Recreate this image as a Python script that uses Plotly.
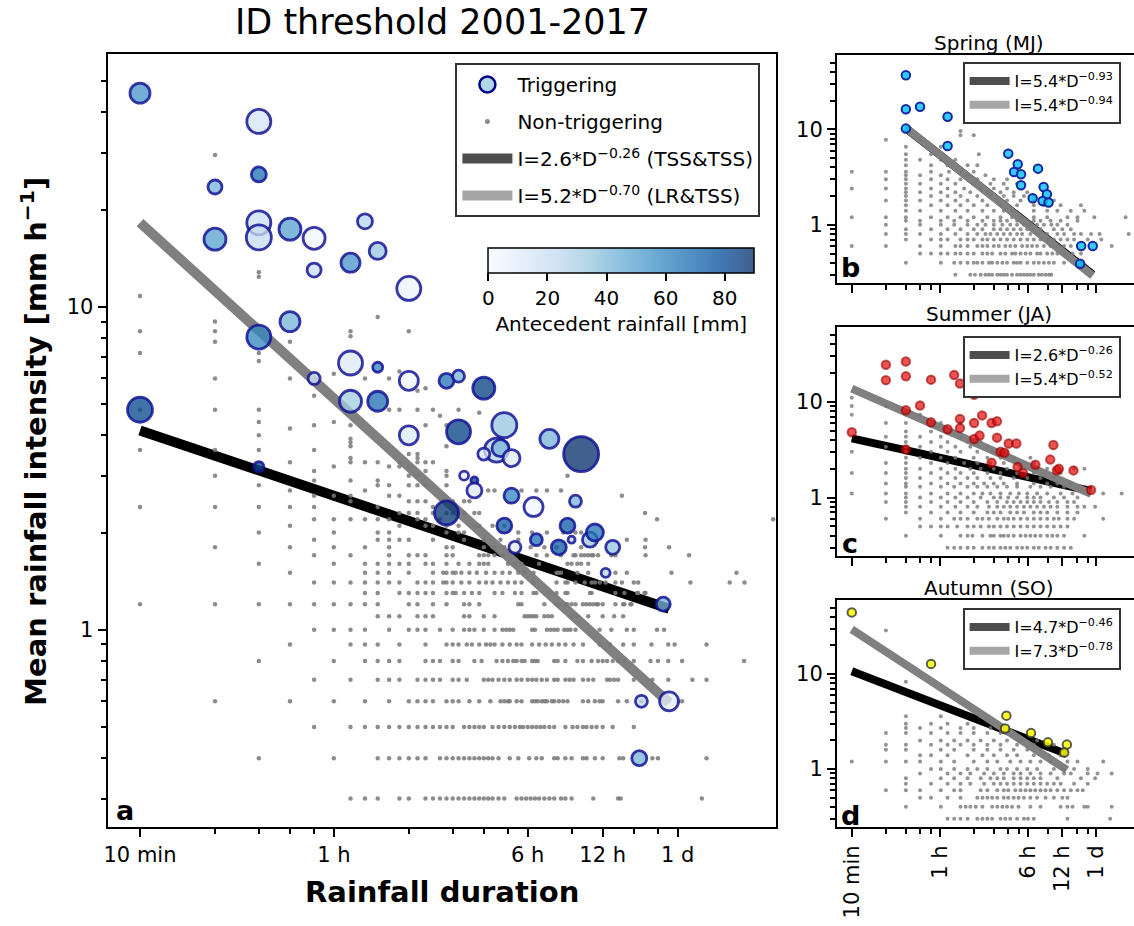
import plotly.graph_objects as go

# ---------------- DATA ----------------
# Main panel: non-triggering events, grouped by intensity row (mm/h) -> durations (min)
main_nt_I = [0.3, 0.4, 0.5, 0.6, 0.7, 0.8, 0.9, 1.0, 1.1, 1.2, 1.3, 1.4, 1.5, 1.6, 1.7, 1.8, 1.9, 2.0,
             2.1, 2.2, 2.3, 2.4, 2.5, 2.6, 2.7, 2.8, 2.9, 3.0, 3.1, 3.2, 3.3, 3.4, 3.5, 3.6, 3.7, 3.8,
             3.9, 4.0, 4.2, 4.3, 4.4, 4.6, 4.7, 4.8, 5.3, 5.5, 5.6, 6.0, 6.2, 6.3, 6.8, 7.2, 7.8, 8.1,
             8.4, 9.0, 9.3, 10.8, 12.4, 12.8, 29.5]
main_nt_D = [
    [70, 80, 90, 110, 120, 140, 150, 160, 170, 180, 190, 200, 210, 220, 230, 240, 250, 260, 275, 290, 325, 340, 355, 370, 385, 400, 420, 440, 460, 490, 510, 540, 660, 830, 850, 1800],
    [30, 60, 90, 100, 110, 120, 130, 140, 160, 170, 180, 190, 200, 210, 220, 230, 240, 250, 260, 275, 305, 330, 365, 390, 410, 460, 475, 510, 540, 600, 620, 670, 720, 840, 870, 1140, 1200, 1880],
    [50, 70, 80, 90, 100, 110, 120, 130, 140, 150, 160, 170, 180, 200, 210, 220, 230, 240, 260, 275, 290, 305, 320, 335, 345, 360, 375, 390, 405, 420, 440, 460, 510, 545, 570, 600, 620, 650, 680, 720, 790, 960],
    [20, 40, 60, 80, 100, 120, 130, 140, 150, 170, 180, 190, 210, 230, 255, 280, 290, 300, 305, 325, 340, 375, 385, 395, 410, 420, 430, 450, 460, 480, 500, 520, 600, 630, 670, 700, 720, 830, 900, 1030, 1330, 1440, 1500],
    [50, 70, 90, 100, 110, 130, 140, 150, 160, 180, 190, 205, 240, 250, 260, 275, 290, 305, 325, 340, 360, 375, 390, 410, 430, 460, 475, 510, 530, 550, 600, 630, 660, 750, 770, 800, 830, 960, 1140, 1320, 1650, 1880],
    [30, 60, 80, 90, 100, 110, 140, 150, 160, 180, 190, 220, 235, 270, 285, 300, 315, 325, 340, 350, 375, 385, 395, 460, 475, 510, 570, 600, 650, 690, 720, 750, 790, 830, 880, 960, 1120, 1200, 1320, 1500, 2660],
    [40, 70, 80, 90, 110, 140, 170, 180, 190, 205, 215, 230, 245, 255, 265, 285, 305, 325, 340, 375, 400, 425, 450, 480, 510, 550, 600, 700, 770, 870, 960, 1130, 1320, 1400, 1880],
    [50, 60, 70, 80, 100, 120, 130, 140, 160, 180, 200, 210, 220, 240, 265, 285, 295, 305, 315, 375, 385, 430, 445, 460, 475, 505, 520, 535, 560, 700, 780, 900, 960, 1190, 1270],
    [90, 100, 110, 130, 140, 150, 200, 210, 240, 265, 350, 360, 370, 380, 390, 420, 435, 450, 540, 570, 630, 720, 800, 870],
    [10, 20, 30, 40, 50, 60, 70, 80, 90, 120, 130, 150, 170, 200, 210, 230, 330, 340, 420, 470, 480, 510, 520, 540, 560, 600, 620, 640, 660, 680, 690, 720, 810, 870, 880, 930, 940],
    [80, 90, 110, 120, 130, 140, 150, 170, 180, 185, 200, 215, 230, 265, 285, 320, 340, 380, 390, 440, 470, 510, 520, 640, 650, 810, 880, 990, 1000, 1060, 1070],
    [50, 60, 70, 80, 90, 100, 110, 130, 140, 150, 165, 170, 180, 195, 210, 230, 245, 260, 280, 300, 320, 340, 380, 470, 510, 520, 560, 610, 650, 670, 700, 740, 810, 860, 960, 1000, 1620, 2330, 2670],
    [40, 80, 90, 100, 120, 150, 165, 170, 180, 185, 195, 210, 225, 245, 265, 285, 305, 330, 350, 380, 470, 480, 490, 570, 630, 810, 900, 1360, 2480],
    [30, 60, 80, 90, 100, 110, 120, 140, 150, 170, 190, 210, 230, 240, 250, 300, 320, 340, 400, 520, 540, 570, 590, 630],
    [50, 70, 100, 120, 130, 140, 170, 180, 230, 240, 250, 265, 285, 390, 430, 490, 550, 560, 590, 610, 630, 650, 660, 690, 780, 810, 1070, 1600],
    [20, 40, 60, 80, 100, 170, 180, 240, 260, 265, 290, 370, 420, 470, 590, 1065, 1330],
    [50, 90, 100, 110, 120, 150, 200, 240, 280, 330, 900, 1070],
    [30, 60, 90, 100, 170, 190, 200, 330, 375, 430, 500, 560, 590],
    [40, 110, 140, 150, 170, 190, 220, 230, 260, 290],
    [50, 60, 70, 80, 90, 100, 130, 140, 160, 1190, 3480],
    [110, 120, 130, 150, 170, 180, 200, 220, 230, 1065],
    [10, 20, 30, 40, 50, 90, 150],
    [70, 120, 130, 140, 180, 200, 210],
    [50, 60, 70, 100, 110, 860],
    [40, 80, 250, 265, 340, 390, 430, 490],
    [30, 90, 100, 120, 130, 140, 170],
    [50, 70, 90],
    [20, 120, 130, 170, 520],
    [50, 140, 170],
    [60, 100, 110, 120],
    [40, 70, 80, 90, 110, 130, 140, 150],
    [70, 130],
    [120, 130],
    [10, 20, 30, 50],
    [70, 170],
    [70],
    [70],
    [30],
    [40],
    [50, 70, 140, 170],
    [30, 60],
    [160],
    [230],
    [10, 20, 30, 100, 110, 130, 150, 190],
    [50],
    [130],
    [140],
    [20, 40, 50, 80, 100],
    [60],
    [110],
    [30],
    [10, 30],
    [20, 40],
    [70],
    [10, 20, 70, 120],
    [20],
    [90],
    [10],
    [30],
    [30],
    [20],
]

# Main panel: triggering events
trig_D = [10, 30, 30, 20, 30, 30, 20, 40, 50, 80, 90, 70, 50, 120, 40, 30, 10, 30, 50, 70, 90, 70, 90, 120, 120,
          170, 190, 240, 190, 290, 440, 590, 270, 280, 240, 310, 200, 220, 220, 170, 310, 380, 560, 290, 390,
          320, 480, 520, 540, 640, 670, 790, 740, 1260, 1030, 1330, 1010]
trig_I = [45.9, 37.5, 25.7, 23.5, 18.2, 16.4, 16.2, 17.4, 16.3, 18.4, 14.9, 13.7, 13.0, 11.4, 9.0, 8.06, 4.8, 3.2,
          6.0, 6.7, 6.5, 5.1, 5.1, 5.9, 4.0,
          5.9, 6.1, 5.6, 4.1, 4.3, 3.9, 3.5, 3.6, 3.65, 3.5, 3.4, 3.0, 2.9, 2.7, 2.3, 2.6, 2.4, 2.5, 2.1, 1.9,
          1.8, 1.8, 2.1, 1.9, 1.9, 2.0, 1.8, 1.5, 1.2, 0.6, 0.6, 0.4]
trig_antecedent = [55, 15, 68, 42, 20, 22, 50, 50, 3, 26, 35, 55, 20, 5, 42, 60, 82, 82, 15, 12, 60, 32, 68, 3, 12,
                   66, 42, 84, 84, 35, 42, 90, 26, 42, 12, 10, 8, 82, 12, 88, 60, 3, 42, 75, 68,
                   8, 75, 75, 22, 32, 66, 35, 26, 42, 22, 8, 42]
trig_size = [23, 27, 18, 17, 27, 28, 25, 25, 25, 18, 20, 22, 17, 27, 23, 27, 28, 13, 15, 27, 13, 25, 23, 22, 22,
             18, 15, 25, 27, 28, 22, 38, 27, 20, 15, 20, 12, 10, 18, 27, 18, 22, 15, 18, 15,
             15, 18, 18, 10, 18, 20, 17, 12, 17, 15, 22, 18]

# Threshold coefficients  I = a * D^b  (D in hours)
main_thr_a = [2.6, 5.2]
main_thr_b = [-0.26, -0.70]
main_thr_labels = ["I=2.6*D<sup>\u22120.26</sup> (TSS&TSS)", "I=5.2*D<sup>\u22120.70</sup> (LR&TSS)"]

# Seasonal panels: non-triggering rows (intensity -> durations, min)
spring_nt_I = [0.3, 0.4, 0.5, 0.6, 0.7, 0.8, 0.9, 1.0, 1.1, 1.2, 1.4, 1.6, 1.8, 2.0, 2.2, 2.4, 2.7, 3.0, 3.3, 3.6,
               4.2, 4.8, 5.5, 6.6, 7.8, 8.7, 9.6]
spring_nt_D = [
    [82, 111, 122, 137, 151, 162, 173, 192, 205, 219, 234, 259, 287, 308, 330, 353, 376, 403, 446, 475, 512, 548, 575],
    [30, 61, 80, 91, 105, 119, 128, 142, 162, 173, 192, 213, 234, 268, 287, 308, 353, 403, 446, 495, 548, 606, 745],
    [40, 50, 61, 70, 82, 91, 105, 119, 142, 157, 173, 205, 226, 259, 277, 308, 341, 376, 431, 462, 529, 587, 650, 745, 884, 1050],
    [10, 20, 40, 61, 82, 91, 105, 128, 142, 157, 179, 198, 226, 250, 277, 318, 353, 389, 431, 495, 567, 650, 745, 855, 1960],
    [30, 50, 61, 70, 91, 105, 119, 142, 157, 179, 205, 234, 268, 308, 353, 403, 462, 529, 606, 695, 798, 913, 1205, 1586],
    [20, 30, 40, 61, 82, 105, 128, 151, 167, 192, 219, 250, 287, 318, 376, 431, 529, 650, 745, 913, 1050, 1290, 1533, 2770],
    [30, 50, 70, 91, 119, 142, 179, 205, 234, 268, 308, 353, 403, 462, 606, 719, 855],
    [20, 40, 61, 80, 105, 128, 151, 179, 213, 250, 287, 330, 376, 431, 495, 575, 650, 798],
    [30, 40, 61, 80, 105, 142, 179, 205, 234, 287, 353, 403, 462, 567, 695, 979],
    [10, 20, 30, 50, 70, 91, 119, 157, 205, 259, 308, 403, 529, 798, 979, 1380, 2600],
    [30, 40, 61, 82, 105, 142, 179, 219, 268, 403, 529, 650, 855, 1125],
    [30, 50, 70, 91, 119, 157, 205, 287, 403, 495, 695, 1050],
    [20, 30, 40, 61, 82, 105, 142, 192, 234, 308, 403, 606],
    [30, 50, 70, 91, 128, 167, 219, 268, 330, 403],
    [30, 40, 61, 82, 111, 157, 205, 268, 353],
    [10, 20, 30, 50, 70, 98, 137, 179, 234],
    [30, 40, 61, 82, 119, 167, 219, 287],
    [20, 30, 50, 70, 91, 128, 179, 234],
    [30, 40, 61, 105, 151],
    [10, 20, 30, 50, 72, 91, 119],
    [30, 50, 70, 105, 128],
    [30, 40, 61, 82],
    [30, 50, 132],
    [30, 61],
    [20, 40],
    [91, 119],
    [91],
]
summer_nt_I = [0.3, 0.4, 0.5, 0.6, 0.7, 0.8, 0.9, 1.0, 1.1, 1.3, 1.4, 1.6, 1.8, 2.0, 2.3, 2.6, 3.0, 3.4, 3.8, 4.3,
               4.9, 6.0, 7.3, 9.0, 11.0]
summer_nt_D = [
    [70, 80, 91, 105, 119, 142, 162, 179, 205, 226, 250, 287, 318, 353, 403, 446, 512, 567, 650, 745, 855],
    [30, 61, 91, 105, 116, 142, 167, 179, 205, 219, 240, 268, 308, 341, 376, 415, 462, 529, 587, 650, 745, 1125],
    [40, 50, 61, 70, 85, 105, 119, 137, 162, 179, 205, 234, 268, 308, 353, 403, 462, 529, 606, 695, 798],
    [20, 40, 61, 80, 91, 105, 128, 142, 162, 192, 219, 240, 268, 308, 353, 403, 462, 529, 606, 670, 798, 913, 1650],
    [30, 50, 70, 91, 119, 157, 179, 205, 250, 287, 330, 403, 462, 529, 650, 798, 979],
    [30, 40, 61, 82, 105, 128, 162, 192, 219, 250, 287, 330, 376, 431, 495, 567, 650, 798, 979, 1125, 1400],
    [20, 30, 50, 70, 91, 119, 157, 192, 234, 268, 308, 353, 403, 462, 548, 650, 798, 913],
    [30, 40, 61, 82, 105, 137, 179, 205, 240, 287, 353, 403, 462, 606, 745, 979],
    [10, 20, 30, 50, 70, 91, 119, 142, 167, 205, 250, 298, 353, 431, 529, 695, 884, 1205, 1650, 2400],
    [30, 40, 61, 80, 105, 128, 157, 192, 234, 287, 376, 462, 567, 745, 979],
    [20, 30, 50, 70, 91, 119, 147, 179, 219, 287, 403, 529, 650, 855],
    [30, 40, 61, 82, 105, 128, 167, 205, 268, 353, 462, 606],
    [10, 20, 30, 50, 70, 91, 119, 157, 205, 287, 403, 695],
    [30, 40, 61, 82, 111, 137, 179, 234, 308, 431, 529, 913, 1125],
    [20, 30, 50, 70, 98, 128, 167, 219, 287, 403],
    [30, 40, 61, 82, 119, 157, 205, 268, 376],
    [10, 30, 50, 70, 91, 128, 173, 234],
    [20, 30, 40, 61, 82, 111, 157],
    [30, 50, 70, 105, 137],
    [20, 30, 40, 61, 91],
    [30, 50, 70],
    [20, 30, 61, 91],
    [10, 30, 40],
    [10, 20],
    [10],
]
autumn_nt_I = [0.3, 0.4, 0.5, 0.6, 0.7, 0.8, 0.9, 1.0, 1.2, 1.4, 1.6, 1.8, 2.0, 2.4, 2.7, 3.0, 3.6, 8.3, 28.7]
autumn_nt_D = [
    [70, 80, 91, 105, 128, 142, 157, 173, 205, 226, 250, 287, 330, 359, 403, 798, 1900],
    [30, 61, 91, 101, 111, 124, 142, 173, 192, 213, 234, 259, 296, 376, 462, 695, 798, 884, 1125, 1205, 1960],
    [40, 50, 70, 91, 128, 142, 157, 173, 192, 219, 240, 268, 296, 330, 376, 431, 512, 606, 719, 798],
    [20, 30, 40, 61, 80, 91, 137, 157, 192, 219, 240, 277, 308, 341, 376, 415, 462, 512, 567, 650, 745, 855, 979, 1090],
    [30, 50, 70, 91, 111, 147, 179, 205, 234, 268, 308, 353, 403, 462, 529, 606, 695, 913, 1205],
    [30, 61, 80, 105, 137, 167, 192, 219, 268, 308, 353, 403, 462, 650, 1050, 1400],
    [40, 70, 91, 111, 147, 179, 219, 268, 308, 376, 462, 567, 745, 855, 1205, 1470, 1960],
    [50, 61, 80, 105, 128, 157, 205, 234, 287, 353, 431, 606, 745, 913, 1205],
    [10, 20, 30, 40, 61, 80, 119, 157, 192, 250, 308, 376, 462, 567, 798, 979, 1650],
    [40, 50, 70, 105, 142, 179, 234, 287, 403, 548, 695],
    [20, 30, 61, 80, 119, 157, 205, 268, 353, 462],
    [20, 30, 50, 70, 91, 119, 157, 205, 287, 403, 606],
    [40, 61, 80, 105, 137, 179, 234, 308, 431],
    [20, 30, 50, 70, 91, 119, 157, 205],
    [30, 40, 61, 91, 119, 167],
    [30, 50, 70, 105],
    [30, 61],
    [30],
    [20],
]

# Seasonal triggering events
spring_D = [30, 30, 40, 30, 70, 70, 240, 291, 270, 311, 311, 439, 492, 526, 394, 482, 544, 1055, 1334, 1033]
spring_I = [37, 16.3, 17.3, 10.2, 13.6, 6.7, 5.57, 4.31, 3.58, 3.39, 2.6, 3.88, 2.49, 2.09, 1.9, 1.78, 1.71, 0.6, 0.6, 0.39]
summer_D = [10, 20, 20, 30, 30, 30, 30, 40, 50, 50, 70, 80, 90, 90, 90, 120, 120, 120, 134, 141, 171, 191, 191,
            171, 205, 222, 242, 283, 290, 324, 416, 563, 600, 644, 670, 903, 1290]
summer_I = [4.81, 24.3, 16.8, 26.3, 18.4, 8.16, 3.18, 9.14, 17, 6.09, 5.17, 19, 15.5, 6.6, 5.3, 11.8, 6.0, 4.08,
            4.43, 7.2, 6.0, 6.24, 4.22, 2.31, 3.0, 2.93, 3.67, 3.67, 2.08, 1.8, 2.2, 2.49, 3.53, 1.92, 2.0, 1.92, 1.2]
autumn_D = [10, 50, 231, 225, 381, 537, 789, 748]
autumn_I = [44.6, 12.8, 3.65, 2.67, 2.39, 1.91, 1.81, 1.49]

season_names = ["Spring (MJ)", "Summer (JA)", "Autumn (SO)"]
season_thr_a = [[5.4, 5.4], [2.6, 5.4], [4.7, 7.3]]
season_thr_b = [[-0.93, -0.94], [-0.26, -0.52], [-0.46, -0.78]]

# Axis ticks
x_tick_vals_h = [1 / 6, 1, 6, 12, 24]
x_tick_text = ["10 min", "1 h", "6 h", "12 h", "1 d"]
x_minor_h = [20 / 60, 30 / 60, 40 / 60, 50 / 60, 2, 3, 4, 5, 9, 16, 20]
y_tick_vals = [1, 10]
y_tick_text = ["1", "10"]
y_minor = [0.3, 0.4, 0.5, 0.6, 0.7, 0.8, 0.9, 2, 3, 4, 5, 6, 7, 8, 9, 20, 30, 40, 50]
cbar_ticks = [0, 20, 40, 60, 80]

# ---------------- HELPERS ----------------
FONT = "DejaVu Sans"
W, H = 1134, 926


def flatten(rows_I, rows_D):
    xs, ys = [], []
    for inten, durs in zip(rows_I, rows_D):
        for d in durs:
            xs.append(d / 60.0)
            ys.append(inten)
    return xs, ys


def px_x(p):
    return p / W


def px_y(p):
    return 1 - p / H


blues = ['#f7fbff', '#deebf7', '#c6dbef', '#9ecae1', '#6baed6', '#4292c6', '#2171b5', '#08519c', '#08306b']


def rgba(hexc, a):
    h = hexc.lstrip('#')
    return 'rgba(%d,%d,%d,%.2f)' % (int(h[0:2], 16), int(h[2:4], 16), int(h[4:6], 16), a)


cscale = [[i / (len(blues) - 1), rgba(c, 0.77)] for i, c in enumerate(blues)]

fig = go.Figure()

# ---------------- MAIN PANEL ----------------
dmin_h = min(trig_D) / 60.0
dmax_h = max(trig_D) / 60.0
line_cols = ['black', '#808080']
for a, b, col in zip(main_thr_a, main_thr_b, line_cols):
    xs = [dmin_h, dmax_h]
    fig.add_trace(go.Scatter(x=xs, y=[a * x ** b for x in xs], mode='lines',
                             line=dict(color=col, width=10), showlegend=False,
                             xaxis='x', yaxis='y', hoverinfo='skip'))

nx, ny = flatten(main_nt_I, main_nt_D)
fig.add_trace(go.Scatter(x=nx, y=ny, mode='markers',
                         marker=dict(size=4.5, color='rgba(120,120,120,0.85)'),
                         showlegend=False, xaxis='x', yaxis='y'))

fig.add_trace(go.Scatter(
    x=[d / 60.0 for d in trig_D], y=trig_I, mode='markers', showlegend=False,
    xaxis='x', yaxis='y',
    marker=dict(size=[s - 3 for s in trig_size], color=trig_antecedent, colorscale=cscale,
                cmin=0, cmax=90, opacity=1, line=dict(color='rgba(20,20,150,0.85)', width=2.8),
                showscale=True,
                colorbar=dict(orientation='h', x=px_x((486 + 753) / 2), xanchor='center',
                              y=px_y(248), yanchor='top', len=(753 - 486) / W, lenmode='fraction',
                              thickness=25, thicknessmode='pixels', outlinewidth=1.5,
                              outlinecolor='black', ticks='outside', ticklen=8, tickwidth=2,
                              tickcolor='black', tickvals=cbar_ticks,
                              tickfont=dict(family=FONT, size=20, color='black'),
                              title=dict(text='Antecedent rainfall [mm]', side='bottom',
                                         font=dict(family=FONT, size=20, color='black')),
                              xpad=0, ypad=0))))

# legend entries for main panel
fig.add_trace(go.Scatter(x=[None], y=[None], mode='markers', name='Triggering', legendgroup='g1',
                         marker=dict(size=18, color='#add8e6', line=dict(color='darkblue', width=2.5)),
                         xaxis='x', yaxis='y', legend='legend'))
fig.add_trace(go.Scatter(x=[None], y=[None], mode='markers', name='Non-triggering', legendgroup='g2',
                         marker=dict(size=5, color='rgba(120,120,120,0.85)'),
                         xaxis='x', yaxis='y', legend='legend'))
for lab, col, g in zip(main_thr_labels, ['#4d4d4d', '#a6a6a6'], ['g3', 'g4']):
    fig.add_trace(go.Scatter(x=[None], y=[None], mode='lines', name=lab, legendgroup=g,
                             line=dict(color=col, width=10), xaxis='x', yaxis='y', legend='legend'))

# ---------------- SEASONAL PANELS ----------------
season_nt = [(spring_nt_I, spring_nt_D), (summer_nt_I, summer_nt_D), (autumn_nt_I, autumn_nt_D)]
season_trig = [(spring_D, spring_I), (summer_D, summer_I), (autumn_D, autumn_I)]
season_fill = ['rgba(0,191,255,0.8)', 'rgba(230,10,10,0.7)', 'rgba(255,255,0,0.85)']
season_edge = ['rgb(20,40,160)', 'rgba(150,0,0,0.6)', 'rgba(50,50,50,0.8)']
axis_ids = ['2', '3', '4']
legend_ids = ['legend2', 'legend3', 'legend4']

for k in range(3):
    xa, ya = 'x' + axis_ids[k], 'y' + axis_ids[k]
    tD, tI = season_trig[k]
    d0, d1 = min(tD) / 60.0, max(tD) / 60.0
    for a, b, col in zip(season_thr_a[k], season_thr_b[k], line_cols):
        xs = [d0, d1]
        fig.add_trace(go.Scatter(x=xs, y=[a * x ** b for x in xs], mode='lines',
                                 line=dict(color=col, width=8), showlegend=False,
                                 xaxis=xa, yaxis=ya))
    sx, sy = flatten(*season_nt[k])
    fig.add_trace(go.Scatter(x=sx, y=sy, mode='markers',
                             marker=dict(size=4, color='rgba(120,120,120,0.8)'),
                             showlegend=False, xaxis=xa, yaxis=ya))
    fig.add_trace(go.Scatter(x=[d / 60.0 for d in tD], y=tI, mode='markers', showlegend=False,
                             marker=dict(size=8.5, color=season_fill[k], opacity=1,
                                         line=dict(color=season_edge[k], width=2)),
                             xaxis=xa, yaxis=ya))
    for a, b, col in zip(season_thr_a[k], season_thr_b[k], ['#4d4d4d', '#a6a6a6']):
        lab = "I=%.1f*D<sup>\u2212%.2f</sup>" % (a, -b)
        fig.add_trace(go.Scatter(x=[None], y=[None], mode='lines', name=lab,
                                 line=dict(color=col, width=8), xaxis=xa, yaxis=ya,
                                 legend=legend_ids[k]))

# ---------------- LAYOUT ----------------
tickfont = dict(family=FONT, size=21, color='black')


def xaxis_cfg(domain, rng, labels=True, angle=0):
    return dict(type='log', domain=domain, range=rng, showline=True, linecolor='black', linewidth=2,
                mirror=True, ticks='outside', ticklen=8, tickwidth=2, tickcolor='black',
                showgrid=False, zeroline=False, tickmode='array', tickvals=x_tick_vals_h,
                ticktext=x_tick_text, showticklabels=labels, tickangle=angle, tickfont=tickfont,
                minor=dict(tickmode='array', tickvals=x_minor_h, ticks='outside', ticklen=5,
                           tickwidth=1.5, tickcolor='black', showgrid=False))


def yaxis_cfg(domain, rng, anchor, mirror=True):
    return dict(type='log', domain=domain, range=rng, showline=True, linecolor='black', linewidth=2,
                mirror=mirror, ticks='outside', ticklen=8, tickwidth=2, tickcolor='black',
                showgrid=False, zeroline=False, tickmode='array', tickvals=y_tick_vals,
                ticktext=y_tick_text, tickfont=tickfont, anchor=anchor,
                minor=dict(tickmode='array', tickvals=y_minor, ticks='outside', ticklen=5,
                           tickwidth=1.5, tickcolor='black', showgrid=False))


main_xd = [px_x(104), px_x(775)]
main_yd = [px_y(827), px_y(54)]
small_xd = [px_x(836), 1.0]
small_yd = [[px_y(283), px_y(55)], [px_y(556), px_y(327)], [px_y(827), px_y(600)]]
main_xr = [-0.908, 1.776]
main_yr = [-0.611, 1.783]
small_xr = [-0.908, 1.711]
small_yr = [-0.61, 1.78]

layout = dict(
    width=W, height=H, autosize=False, margin=dict(l=0, r=0, t=0, b=0),
    paper_bgcolor='white', plot_bgcolor='white',
    font=dict(family=FONT, color='black'),
    xaxis=xaxis_cfg(main_xd, main_xr) | dict(anchor='y'),
    yaxis=yaxis_cfg(main_yd, main_yr, 'x'),
    xaxis2=xaxis_cfg(small_xd, small_xr, labels=False) | dict(anchor='y2'),
    yaxis2=yaxis_cfg(small_yd[0], small_yr, 'x2', mirror=False),
    xaxis3=xaxis_cfg(small_xd, small_xr, labels=False) | dict(anchor='y3'),
    yaxis3=yaxis_cfg(small_yd[1], small_yr, 'x3', mirror=False),
    xaxis4=xaxis_cfg(small_xd, small_xr, labels=True, angle=-90) | dict(anchor='y4'),
    yaxis4=yaxis_cfg(small_yd[2], small_yr, 'x4', mirror=False),
    legend=dict(x=px_x(453), y=px_y(63), xanchor='left', yanchor='top', bgcolor='white',
                bordercolor='#333333', borderwidth=2, font=dict(family=FONT, size=20, color='black'),
                tracegroupgap=8, itemwidth=50, traceorder='grouped'),
    showlegend=True,
)
small_leg_top = [62, 336, 608]
for k in range(3):
    layout[legend_ids[k]] = dict(x=px_x(962), y=px_y(small_leg_top[k]), xanchor='left', yanchor='top',
                                 bgcolor='white', bordercolor='#333333', borderwidth=2,
                                 font=dict(family=FONT, size=16, color='black'), itemwidth=40,
                                 tracegroupgap=0)
fig.update_layout(**layout)

ann = []
ann.append(dict(text='ID threshold 2001-2017', x=px_x(440), y=px_y(22), xref='paper', yref='paper',
                showarrow=False, xanchor='center', yanchor='middle',
                font=dict(family=FONT, size=35, color='black')))
ann.append(dict(text='<b>Mean rainfall intensity [mm h<sup>\u22121</sup>]</b>', x=px_x(30), y=px_y(441),
                xref='paper', yref='paper', showarrow=False, textangle=-90, xanchor='center',
                yanchor='middle', font=dict(family=FONT, size=29, color='black')))
ann.append(dict(text='<b>Rainfall duration</b>', x=px_x(440), y=px_y(892), xref='paper', yref='paper',
                showarrow=False, xanchor='center', yanchor='middle',
                font=dict(family=FONT, size=29, color='black')))
for lab, cx, cy in [('a', 121, 810), ('b', 849, 268), ('c', 849, 543), ('d', 849, 815)]:
    ann.append(dict(text='<b>%s</b>' % lab, x=px_x(cx), y=px_y(cy), xref='paper', yref='paper',
                    showarrow=False, xanchor='center', yanchor='middle',
                    font=dict(family=FONT, size=27, color='black')))
for name, cy in zip(season_names, [43, 314, 588]):
    ann.append(dict(text=name, x=px_x(988), y=px_y(cy), xref='paper', yref='paper', showarrow=False,
                    xanchor='center', yanchor='middle', font=dict(family=FONT, size=20, color='black')))
fig.update_layout(annotations=ann)

fig.write_html("out.html", config={'displayModeBar': False},
               post_script="document.body.style.margin='0px';")
